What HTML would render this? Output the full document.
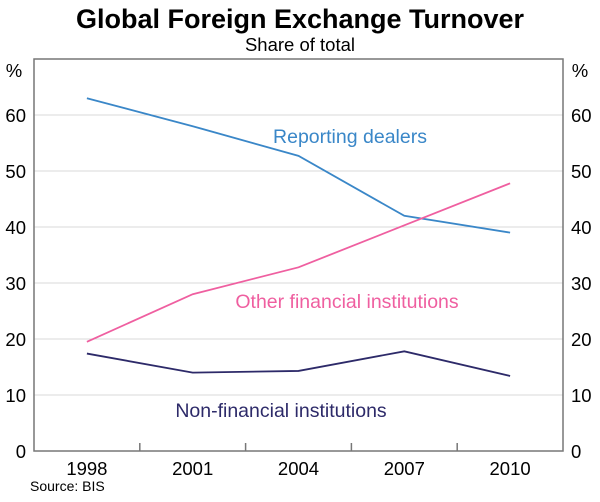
<!DOCTYPE html>
<html><head><meta charset="utf-8"><style>
body{margin:0;background:#fff}
svg text{font-family:"Liberation Sans",Arial,sans-serif}
</style></head><body>
<svg id="c" width="600" height="497" xmlns="http://www.w3.org/2000/svg">
<text x="300" y="28" text-anchor="middle" font-size="27" font-weight="bold" fill="#000">Global Foreign Exchange Turnover</text>
<text x="300" y="51" text-anchor="middle" font-size="18.5" fill="#000">Share of total</text>
<text x="14" y="77" text-anchor="middle" font-size="18.5">%</text>
<text x="580" y="77" text-anchor="middle" font-size="18.5">%</text>
<g id="grid"></g><g id="series"></g><g id="axes"></g>
<text x="30" y="491" font-size="14">Source: BIS</text>
</svg>
<script>
const categories=["1998","2001","2004","2007","2010"];
const dealers=[63,58,52.7,42,39];
const otherFin=[19.5,28,32.8,40.3,47.8];
const nonFin=[17.4,14,14.3,17.8,13.4];
const yTicks=[0,10,20,30,40,50,60];
const NS="http://www.w3.org/2000/svg";
const L=34,R=563,T=59,B=451,yMax=70;
const band=(R-L)/categories.length;
const xs=i=>L+band*(i+0.5);
const ys=v=>B-(v/yMax)*(B-T);
function mk(t,a,p){const e=document.createElementNS(NS,t);for(const k in a)e.setAttribute(k,a[k]);p.appendChild(e);return e;}
const g=document.getElementById('grid'),ax=document.getElementById('axes'),s=document.getElementById('series');
yTicks.forEach(v=>{
 if(v>0){const l=mk('line',{x1:L,x2:R,y1:ys(v),y2:ys(v),stroke:'#d9d9d9','stroke-width':1},g);
 
 }
 const t1=mk('text',{x:L-8,y:ys(v)+7,'text-anchor':'end','font-size':18.5},ax);t1.textContent=v;
 
 
 const t2=mk('text',{x:R+8,y:ys(v)+7,'text-anchor':'start','font-size':18.5},ax);t2.textContent=v;
 
 
});
const fr=mk('rect',{x:L,y:T,width:R-L,height:B-T,fill:'none',stroke:'#777','stroke-width':1.5},ax);


categories.forEach((c,i)=>{
 const t=mk('text',{x:xs(i),y:B+24,'text-anchor':'middle','font-size':18.5},ax);t.textContent=c;
 
 
 if(i>0){const tk=mk('line',{x1:L+band*i,x2:L+band*i,y1:B,y2:B-8,stroke:'#777','stroke-width':1.5},ax);
 
 }
});
function line(data,color,name){
 const p=mk('polyline',{points:data.map((v,i)=>xs(i)+','+ys(v)).join(' '),fill:'none',stroke:color,'stroke-width':1.8},s);
 
 
}
line(dealers,'#3a87c8','reporting-dealers-line');
line(otherFin,'#ef5fa0','other-financial-line');
line(nonFin,'#2d2a69','non-financial-line');
function lbl(x,y,txt,c,name){const t=mk('text',{x:x,y:y,'text-anchor':'middle','font-size':19.5,fill:c},s);t.textContent=txt;
 
 }
lbl(350,143,'Reporting dealers','#3a87c8','reporting-dealers-label');
lbl(347,308,'Other financial institutions','#ef5fa0','other-financial-label');
lbl(281,417,'Non-financial institutions','#2d2a69','non-financial-label');
</script>
</body></html>
